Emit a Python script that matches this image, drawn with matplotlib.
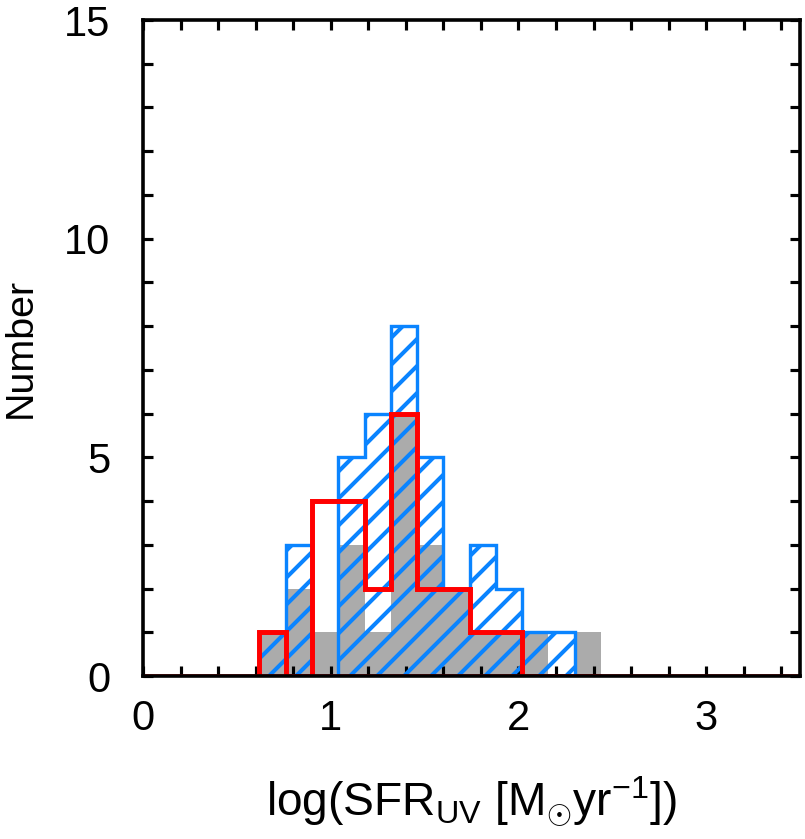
import numpy as np
import matplotlib
matplotlib.use("Agg")
import matplotlib.pyplot as plt
from matplotlib.ticker import MultipleLocator

# bin edges of the histograms, log(SFR_UV)
bin_edges = np.round(np.arange(0.62, 2.45, 0.14), 2)

# counts per bin
gray_counts = [1, 2, 1, 3, 1, 6, 3, 2, 1, 1, 1, 0, 1]
blue_counts = [1, 3, 0, 5, 6, 8, 5, 2, 3, 2, 1, 1, 0]
red_counts = [1, 0, 4, 4, 2, 6, 2, 2, 1, 1, 0, 0, 0]

x_ticks = [0, 1, 2, 3]
y_ticks = [0, 5, 10, 15]

BLUE = "#0a84ff"
GRAY = "#ababab"
RED = "#ff0000"

DPI = 162
plt.rcParams["font.family"] = ["Liberation Sans", "DejaVu Sans"]
plt.rcParams["mathtext.fontset"] = "custom"
plt.rcParams["mathtext.rm"] = "Liberation Sans"
plt.rcParams["mathtext.it"] = "Liberation Sans"
plt.rcParams["hatch.linewidth"] = 1.8

fig = plt.figure(figsize=(805 / DPI, 839 / DPI), dpi=DPI)
ax = fig.add_axes([143 / 805, 1 - 676 / 839, (800 - 143) / 805, (676 - 20) / 839])

# gray filled histogram
ax.stairs(gray_counts, bin_edges, fill=True, color=GRAY, linewidth=0, zorder=1)
# blue hatched histogram: hatch first, then the outline
ax.stairs(blue_counts, bin_edges, fill=True, facecolor="none", edgecolor=BLUE,
          hatch="//", linewidth=0, zorder=2)
ax.stairs(blue_counts, bin_edges, color=BLUE, linewidth=1.5, zorder=3)
# red histogram with its zero line across the plot
ax.axhline(0, color=RED, linewidth=2.0, zorder=3.5)
ax.stairs(red_counts, bin_edges, color=RED, linewidth=2.2, zorder=4)

ax.set_xlim(0, 3.5)
ax.set_ylim(0, 15)
ax.set_xticks(x_ticks)
ax.set_yticks(y_ticks)
ax.xaxis.set_minor_locator(MultipleLocator(0.2))
ax.yaxis.set_minor_locator(MultipleLocator(1))
ax.tick_params(which="both", direction="in", top=True, right=True,
               length=4.5, width=1.4, colors="black")
ax.tick_params(axis="x", which="major", pad=10, labelsize=18.5)
ax.tick_params(axis="y", which="major", pad=14.5, labelsize=18.5)
for spine in ax.spines.values():
    spine.set_linewidth(1.6)
    spine.set_zorder(5)

ax.set_xlabel(r"log(SFR$_{\rm UV}$ [M$_{\odot}$yr$^{-1}$])", fontsize=20.5, labelpad=16)
ax.set_ylabel("Number", fontsize=17.5, labelpad=11)

fig.savefig("out.png", dpi=DPI)
plt.close(fig)
